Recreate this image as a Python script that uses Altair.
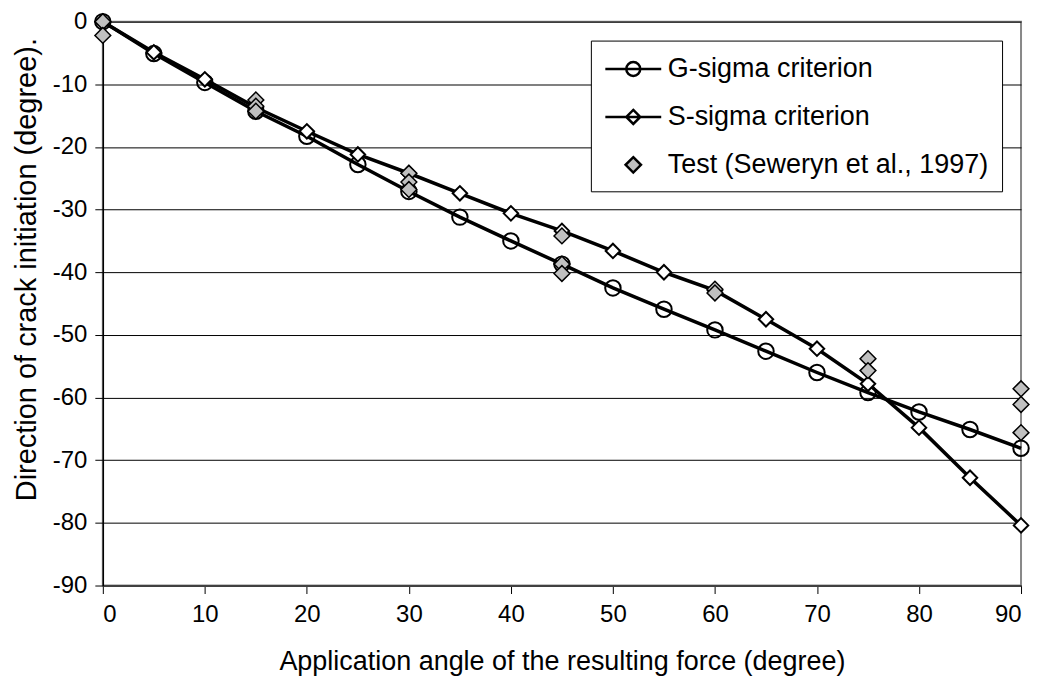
import altair as alt
import pandas as pd

# ---- data ----
angles = [0, 5, 10, 15, 20, 25, 30, 35, 40, 45, 50, 55, 60, 65, 70, 75, 80, 85, 90]
g_sigma = [0, -5.1, -9.7, -14.3, -18.3, -22.8, -27.1, -31.2, -35.0, -38.7,
           -42.5, -45.9, -49.2, -52.6, -56.0, -59.2, -62.3, -65.1, -68.1]
s_sigma = [0, -4.9, -9.2, -13.7, -17.5, -21.2, -24.2, -27.4, -30.6, -33.4,
           -36.6, -40.0, -42.9, -47.5, -52.2, -57.8, -64.8, -72.8, -80.4]
test_x = [0, 0, 15, 15, 15, 30, 30, 30, 45, 45, 45, 60, 60, 75, 75, 90, 90, 90]
test_y = [0, -2.2, -12.5, -13.5, -14.3, -24.2, -25.6, -26.8, -34.2, -38.7, -40.2,
          -42.7, -43.3, -53.8, -55.7, -58.6, -61.1, -65.6]

series_names = ["G-sigma criterion", "S-sigma criterion", "Test (Seweryn et al., 1997)"]
x_ticks = list(range(0, 91, 10))
y_ticks = list(range(-90, 1, 10))

FONT = "Liberation Sans"
TICK_FS = 24
XT_FS = 27
YT_FS = 29
LEG_FS = 27

theory = pd.concat([
    pd.DataFrame({"x": angles, "y": g_sigma, "series": series_names[0]}),
    pd.DataFrame({"x": angles, "y": s_sigma, "series": series_names[1]}),
])
g_df = theory[theory.series == series_names[0]]
s_df = theory[theory.series == series_names[1]]
test_df = pd.DataFrame({"x": test_x, "y": test_y, "series": series_names[2]})
legend_df = pd.DataFrame({"series": series_names})

xs = alt.Scale(domain=[0, 90], nice=False, zero=False)
ys = alt.Scale(domain=[-90, 0], nice=False, zero=False)

hyphen_expr = "datum.value < 0 ? '-' + format(-datum.value, 'd') : format(datum.value, 'd')"

x_enc = alt.X("x:Q", scale=xs, axis=alt.Axis(
    values=x_ticks, grid=False, title="Application angle of the resulting force (degree)",
    labelFontSize=TICK_FS, titleFontSize=XT_FS, labelFont=FONT, titleFont=FONT,
    labelColor="black", titleColor="black", titleFontWeight="normal",
    domainColor="#404040", domainWidth=2, tickColor="black", tickSize=8, tickWidth=1,
    labelPadding=9, titlePadding=22))
y_enc = alt.Y("y:Q", scale=ys, axis=alt.Axis(
    values=y_ticks, grid=True, gridColor="black", gridWidth=1,
    title="Direction of crack initiation (degree).", labelExpr=hyphen_expr,
    labelFontSize=TICK_FS, titleFontSize=YT_FS, labelFont=FONT, titleFont=FONT,
    labelColor="black", titleColor="black", titleFontWeight="normal",
    domainColor="black", domainWidth=1.5, tickColor="black", tickSize=8, tickWidth=1,
    labelPadding=8, titleX=-76, titleY=248, titleAlign="center", titleBaseline="middle"))

lines = alt.Chart(theory).mark_line(color="black", strokeWidth=3.5).encode(
    x=x_enc, y=y_enc, detail="series:N")

g_pts = alt.Chart(g_df).mark_point(shape="circle", filled=False, color="black",
                                    strokeWidth=2, size=240, opacity=1).encode(x="x:Q", y="y:Q")
s_pts = alt.Chart(s_df).mark_point(shape="diamond", filled=True, fill="white", stroke="black",
                                    strokeWidth=2, size=210, opacity=1).encode(x="x:Q", y="y:Q")
t_pts = alt.Chart(test_df).mark_point(shape="diamond", filled=True, fill="#c0c0c0", stroke="black",
                                       strokeWidth=1.5, size=250, opacity=1).encode(x="x:Q", y="y:Q")

circle_path = "M-1,0H3M1.5,0A0.5,0.5,0,1,1,0.5,0A0.5,0.5,0,1,1,1.5,0Z"
diamond_path = "M-1,0H3M1,-0.5L1.5,0L1,0.5L0.5,0Z"
test_path = "M1,-0.55L1.55,0L1,0.55L0.45,0Z"

leg = alt.Legend(title=None, orient="top-right", offset=19, strokeColor="black",
                 fillColor="white", padding=13, labelFontSize=LEG_FS, labelFont=FONT,
                 labelColor="black", labelOffset=33, symbolSize=784, symbolStrokeWidth=2.5,
                 symbolStrokeColor="black", symbolOpacity=1, rowPadding=19, labelLimit=600)

legend_layer = alt.Chart(legend_df).transform_filter("false").mark_point(
    filled=True, opacity=1).encode(
    shape=alt.Shape("series:N", scale=alt.Scale(domain=series_names,
                    range=[circle_path, diamond_path, test_path]), legend=leg),
    fill=alt.Fill("series:N", scale=alt.Scale(domain=series_names,
                  range=["white", "white", "#c0c0c0"]), legend=leg),
    stroke=alt.Stroke("series:N", scale=alt.Scale(domain=series_names,
                      range=["black", "black", "black"]), legend=leg),
)

chart = alt.layer(lines, g_pts, s_pts, t_pts, legend_layer).properties(
    width=920, height=565,
    autosize=alt.AutoSizeParams(type="none"),
    padding={"left": 95, "top": 13, "right": 10, "bottom": 94},
    background="white",
).configure_view(stroke="#888888", strokeWidth=2)

chart.save("out.html", embed_options={"renderer": "svg", "actions": False})
